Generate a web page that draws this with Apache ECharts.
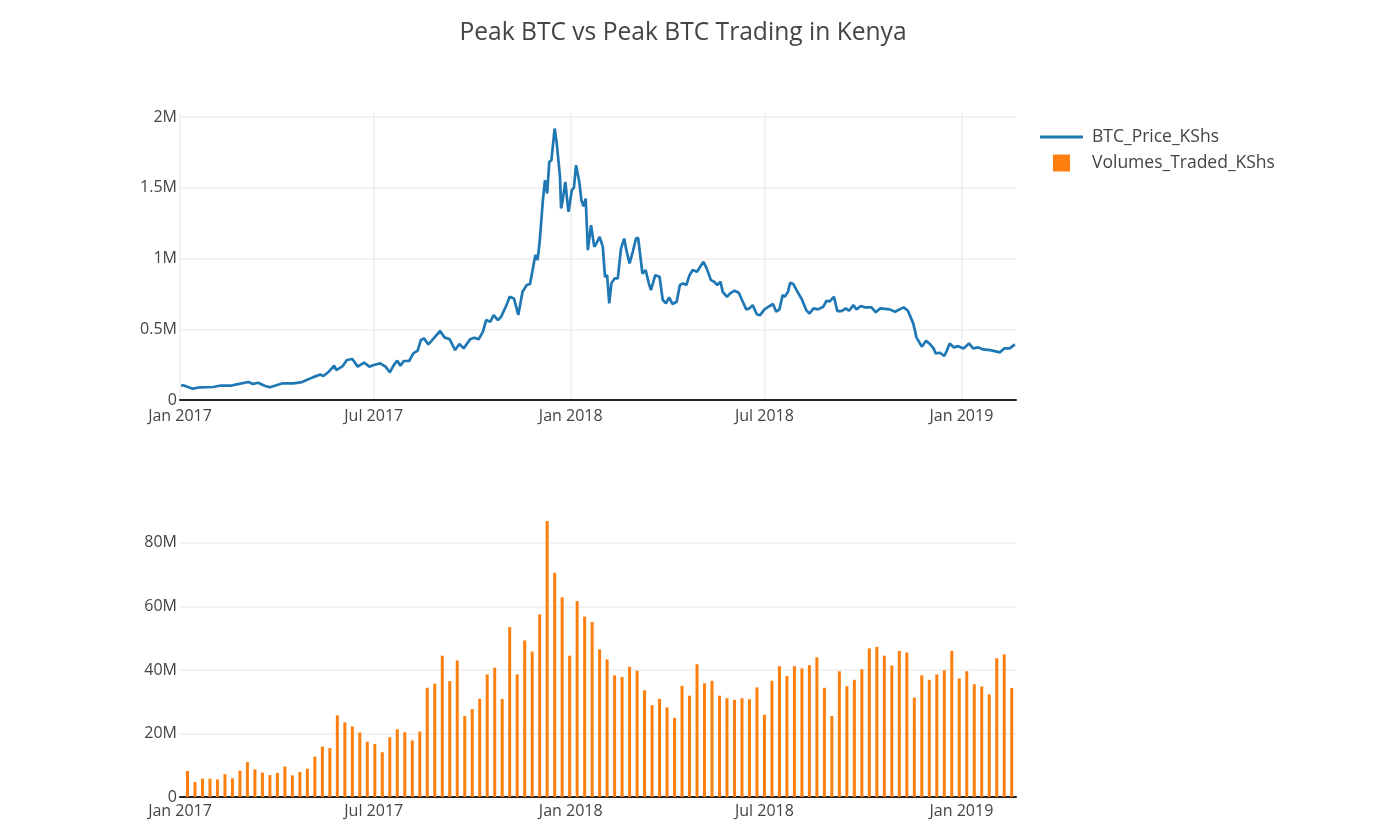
<!DOCTYPE html>
<html>
<head>
<meta charset="utf-8">
<title>Peak BTC vs Peak BTC Trading in Kenya</title>
<script src="https://cdn.jsdelivr.net/npm/echarts@6/dist/echarts.min.js"></script>
<style>
    html, body { margin: 0; padding: 0; background: #fff; }
    #chart { width: 1400px; height: 831px; }
</style>
</head>
<body>
<div id="chart"></div>
<script>
    // BTC price in KShs (irregular spacing)
    var priceDates = [
        '2017-01-02','2017-01-04','2017-01-09','2017-01-13','2017-01-20','2017-02-01','2017-02-07','2017-02-17',
        '2017-02-23','2017-03-06','2017-03-10','2017-03-15','2017-03-21','2017-03-26','2017-04-07','2017-04-17',
        '2017-04-25','2017-05-05','2017-05-12','2017-05-15','2017-05-20','2017-05-25','2017-05-27','2017-06-02',
        '2017-06-06','2017-06-11','2017-06-16','2017-06-22','2017-06-27','2017-07-01','2017-07-07','2017-07-12',
        '2017-07-16','2017-07-20','2017-07-23','2017-07-26','2017-07-29','2017-08-03','2017-08-07','2017-08-11',
        '2017-08-14','2017-08-17','2017-08-21','2017-08-26','2017-09-01','2017-09-05','2017-09-10','2017-09-15',
        '2017-09-19','2017-09-23','2017-09-29','2017-10-03','2017-10-07','2017-10-11','2017-10-14','2017-10-18',
        '2017-10-21','2017-10-25','2017-10-28','2017-11-02','2017-11-05','2017-11-09','2017-11-13','2017-11-17',
        '2017-11-21','2017-11-24','2017-11-29','2017-12-01','2017-12-03','2017-12-06','2017-12-08','2017-12-10',
        '2017-12-12','2017-12-14','2017-12-17','2017-12-19','2017-12-22','2017-12-23','2017-12-24','2017-12-27',
        '2017-12-29','2017-12-30','2018-01-02','2018-01-04','2018-01-06','2018-01-09','2018-01-11','2018-01-13',
        '2018-01-15','2018-01-17','2018-01-20','2018-01-23','2018-01-25','2018-01-28','2018-01-31','2018-02-02',
        '2018-02-04','2018-02-06','2018-02-08','2018-02-11','2018-02-14','2018-02-17','2018-02-20','2018-02-22',
        '2018-02-25','2018-02-28','2018-03-03','2018-03-05','2018-03-09','2018-03-12','2018-03-15','2018-03-17',
        '2018-03-21','2018-03-25','2018-03-28','2018-03-31','2018-04-03','2018-04-06','2018-04-10','2018-04-13',
        '2018-04-16','2018-04-19','2018-04-22','2018-04-25','2018-04-29','2018-05-02','2018-05-05','2018-05-08',
        '2018-05-12','2018-05-15','2018-05-18','2018-05-21','2018-05-23','2018-05-27','2018-05-30','2018-06-03',
        '2018-06-07','2018-06-10','2018-06-14','2018-06-17','2018-06-20','2018-06-24','2018-06-27','2018-07-01',
        '2018-07-06','2018-07-09','2018-07-12','2018-07-15','2018-07-18','2018-07-20','2018-07-23','2018-07-25',
        '2018-07-28','2018-07-31','2018-08-05','2018-08-09','2018-08-12','2018-08-16','2018-08-20','2018-08-25',
        '2018-08-28','2018-08-31','2018-09-04','2018-09-07','2018-09-11','2018-09-15','2018-09-18','2018-09-22',
        '2018-09-25','2018-09-29','2018-10-03','2018-10-09','2018-10-13','2018-10-17','2018-10-26','2018-10-31',
        '2018-11-08','2018-11-12','2018-11-17','2018-11-20','2018-11-25','2018-11-29','2018-12-02','2018-12-06',
        '2018-12-08','2018-12-12','2018-12-16','2018-12-18','2018-12-21','2018-12-25','2018-12-29','2019-01-03',
        '2019-01-08','2019-01-12','2019-01-17','2019-01-21','2019-01-28','2019-02-06','2019-02-10','2019-02-15',
        '2019-02-20'
    ];
    var priceValues = [
        101000,104000,90000,80000,90000,92000,101000,101000,
        111000,127000,113000,122000,101000,90000,118000,118000,
        127000,160000,181000,170000,200000,243000,212000,240000,
        283000,290000,236000,264000,236000,248000,259000,236000,
        196000,250000,278000,243000,276000,276000,330000,349000,
        424000,436000,393000,436000,488000,443000,429000,353000,
        396000,365000,429000,441000,429000,483000,565000,554000,
        601000,565000,589000,671000,730000,718000,601000,765000,
        813000,820000,1025000,990000,1119000,1413000,1555000,1461000,
        1684000,1696000,1920000,1814000,1578000,1354000,1390000,1543000,
        1390000,1331000,1484000,1502000,1661000,1543000,1413000,1370000,
        1425000,1060000,1237000,1083000,1107000,1154000,1083000,871000,
        883000,683000,825000,860000,860000,1072000,1142000,1060000,
        966000,1048000,1142000,1147000,895000,919000,825000,778000,
        883000,872000,707000,683000,726000,679000,695000,813000,
        825000,813000,883000,919000,907000,942000,978000,931000,
        848000,836000,813000,836000,765000,730000,754000,773000,
        759000,707000,641000,648000,671000,605000,600000,641000,
        665000,679000,624000,641000,742000,730000,765000,829000,
        820000,777000,711000,636000,612000,648000,641000,660000,
        702000,698000,730000,629000,629000,648000,631000,671000,
        641000,665000,655000,655000,620000,648000,641000,624000,
        655000,631000,542000,443000,377000,419000,400000,365000,
        330000,334000,311000,342000,400000,372000,381000,365000,
        400000,365000,372000,358000,353000,337000,365000,365000,
        393000
    ];

    // weekly volumes traded in KShs, one bar per week from 8 Jan 2017
    var volumeFirstWeek = '2017-01-08';
    var volumeValues = [
        8200000,4700000,5800000,5800000,5500000,7200000,5900000,8300000,11000000,8700000,
        7700000,6900000,7600000,9600000,6800000,7900000,8900000,12700000,15900000,15400000,
        25700000,23500000,22200000,20300000,17400000,16700000,14100000,18800000,21300000,20400000,
        17800000,20600000,34400000,35700000,44500000,36500000,43000000,25500000,27700000,30900000,
        38600000,40700000,30900000,53500000,38600000,49300000,45800000,57500000,86900000,70600000,
        62900000,44500000,61700000,56800000,55100000,46500000,43300000,38300000,37800000,41000000,
        39800000,33600000,28900000,30900000,28200000,24900000,35000000,31900000,41800000,35800000,
        36600000,31900000,31100000,30600000,31100000,30800000,34500000,25900000,36600000,41200000,
        38100000,41200000,40500000,41500000,44000000,34400000,25500000,39600000,34900000,36900000,
        40200000,46800000,47300000,44500000,41400000,46000000,45500000,31300000,38300000,36900000,
        38600000,39900000,46000000,37300000,39600000,35500000,34800000,32300000,43700000,44900000,
        34300000
    ];

    // x range and tick positions shared by both plots
    var xStart = '2017-01-01';
    var xEnd = '2019-02-21';
    var tickDates = ['2017-01-01', '2017-07-01', '2018-01-01', '2018-07-01', '2019-01-01'];
    var monthNames = ['Jan','Feb','Mar','Apr','May','Jun','Jul','Aug','Sep','Oct','Nov','Dec'];

    var DAY = 24 * 3600 * 1000;
    function toTime(s) {
        var p = s.split('-');
        return Date.UTC(+p[0], +p[1] - 1, +p[2]);
    }

    var priceData = priceDates.map(function (d, i) { return [toTime(d), priceValues[i]]; });
    var volumeData = volumeValues.map(function (v, i) {
        return [toTime(volumeFirstWeek) + 7 * i * DAY, v];
    });
    var tickValues = tickDates.map(toTime);

    var fontFamily = '"Open Sans", "Noto Sans", sans-serif';
    var textColor = '#444';

    function dateLabel(val) {
        var d = new Date(val);
        return monthNames[d.getUTCMonth()] + ' ' + d.getUTCFullYear();
    }
    function millions(v) {
        return v === 0 ? '0' : (v / 1e6) + 'M';
    }

    function xAxisFor(gridIndex, showGrid, margin) {
        return {
            type: 'value',
            gridIndex: gridIndex,
            min: toTime(xStart),
            max: toTime(xEnd),
            axisLine: { show: true, onZero: false, lineStyle: { color: '#222', width: 2 } },
            axisTick: { show: false, customValues: tickValues },
            axisLabel: {
                customValues: tickValues,
                formatter: dateLabel,
                color: textColor,
                fontFamily: fontFamily,
                fontSize: 16,
                margin: margin,
                hideOverlap: false
            },
            splitLine: { show: showGrid, lineStyle: { color: '#eee', width: 1.5 } }
        };
    }

    var chart = echarts.init(document.getElementById('chart'));

    var option = {
        backgroundColor: '#fff',
        animation: false,
        title: {
            text: 'Peak BTC vs Peak BTC Trading in Kenya',
            left: 678,
            top: 15,
            textAlign: 'center',
            textStyle: { color: textColor, fontFamily: fontFamily, fontSize: 24.6, fontWeight: 'normal' }
        },
        legend: [
            {
                data: ['BTC_Price_KShs'],
                left: 1035,
                top: 123,
                icon: 'rect',
                itemWidth: 43,
                itemHeight: 3,
                textStyle: { color: textColor, fontFamily: fontFamily, fontSize: 17.5, padding: [0, 0, 0, 4] }
            },
            {
                data: ['Volumes_Traded_KShs'],
                left: 1048,
                top: 149,
                icon: 'rect',
                itemWidth: 17,
                itemHeight: 17,
                textStyle: { color: textColor, fontFamily: fontFamily, fontSize: 17.5, padding: [0, 0, 0, 17] }
            }
        ],
        grid: [
            { left: 180, right: 384, top: 113, height: 287 },
            { left: 180, right: 384, top: 508, height: 289 }
        ],
        xAxis: [
            xAxisFor(0, true, 8),
            xAxisFor(1, false, 6)
        ],
        yAxis: [
            {
                type: 'value',
                gridIndex: 0,
                min: 0,
                max: 2030000,
                interval: 500000,
                axisLine: { show: false },
                axisTick: { show: false },
                axisLabel: {
                    formatter: millions, color: textColor, fontFamily: fontFamily, fontSize: 16,
                    margin: 3, showMaxLabel: false
                },
                splitLine: { show: true, showMaxLine: false, lineStyle: { color: '#eee', width: 1.5 } }
            },
            {
                type: 'value',
                gridIndex: 1,
                min: 0,
                max: 91000000,
                interval: 20000000,
                axisLine: { show: false },
                axisTick: { show: false },
                axisLabel: {
                    formatter: millions, color: textColor, fontFamily: fontFamily, fontSize: 16,
                    margin: 3, showMaxLabel: false
                },
                splitLine: { show: true, showMaxLine: false, lineStyle: { color: '#eee', width: 1.5 } }
            }
        ],
        series: [
            {
                name: 'BTC_Price_KShs',
                type: 'line',
                xAxisIndex: 0,
                yAxisIndex: 0,
                data: priceData,
                symbol: 'none',
                color: '#1f77b4',
                lineStyle: { color: '#1f77b4', width: 2.7 }
            },
            {
                name: 'Volumes_Traded_KShs',
                type: 'bar',
                xAxisIndex: 1,
                yAxisIndex: 1,
                data: volumeData,
                barWidth: 3,
                color: '#ff7f0e',
                itemStyle: { color: '#ff7f0e' }
            }
        ]
    };

    chart.setOption(option);
</script>
</body>
</html>
